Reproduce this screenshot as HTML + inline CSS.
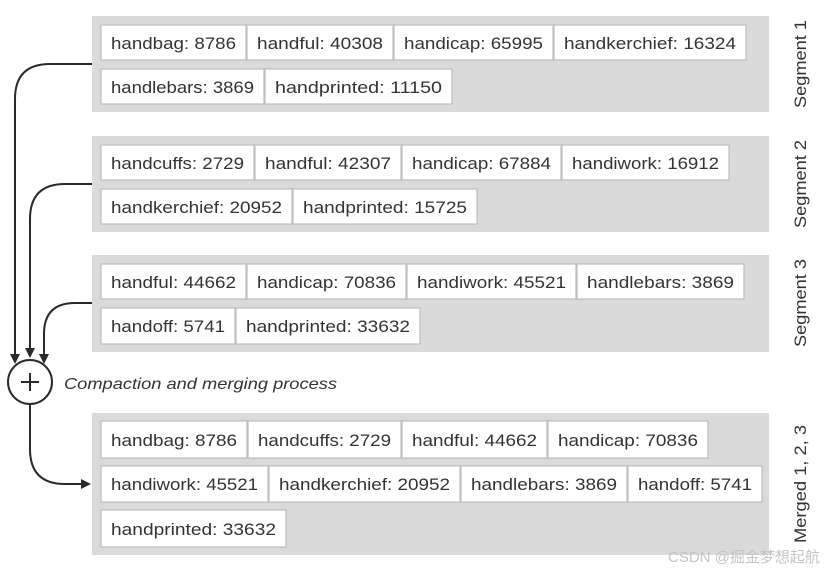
<!DOCTYPE html>
<html><head><meta charset="utf-8"><style>
html,body{margin:0;padding:0;background:#fff;}
svg{display:block;}
text{font-family:"Liberation Sans","Noto Sans CJK SC",sans-serif;fill:#333;}
.c{fill:#fff;stroke:#bdbdbd;stroke-width:1.2;}
.p{fill:#dadada;}
.t{font-size:17px;}
.l{stroke:#2a2a2a;stroke-width:2;fill:none;}
</style></head><body>
<svg width="830" height="574" viewBox="0 0 830 574" xmlns="http://www.w3.org/2000/svg">
<rect class="p" x="92" y="16" width="677" height="96"/>
<rect class="p" x="92" y="136" width="677" height="96"/>
<rect class="p" x="92" y="255" width="677" height="97"/>
<rect class="p" x="92" y="413" width="677" height="142"/>

<!-- Segment 1 -->
<rect class="c" x="101" y="25" width="145" height="35"/><text class="t" x="111" y="49" textLength="125" lengthAdjust="spacingAndGlyphs">handbag: 8786</text>
<rect class="c" x="247" y="25" width="146" height="35"/><text class="t" x="257" y="49" textLength="126" lengthAdjust="spacingAndGlyphs">handful: 40308</text>
<rect class="c" x="394" y="25" width="159" height="35"/><text class="t" x="404" y="49" textLength="139" lengthAdjust="spacingAndGlyphs">handicap: 65995</text>
<rect class="c" x="554" y="25" width="192" height="35"/><text class="t" x="564" y="49" textLength="172" lengthAdjust="spacingAndGlyphs">handkerchief: 16324</text>
<rect class="c" x="101" y="69" width="163" height="35"/><text class="t" x="111" y="93" textLength="143" lengthAdjust="spacingAndGlyphs">handlebars: 3869</text>
<rect class="c" x="265" y="69" width="187" height="35"/><text class="t" x="275" y="93" textLength="167" lengthAdjust="spacingAndGlyphs">handprinted: 11150</text>

<!-- Segment 2 -->
<rect class="c" x="101" y="145" width="153" height="35"/><text class="t" x="111" y="169" textLength="133" lengthAdjust="spacingAndGlyphs">handcuffs: 2729</text>
<rect class="c" x="255" y="145" width="146" height="35"/><text class="t" x="265" y="169" textLength="126" lengthAdjust="spacingAndGlyphs">handful: 42307</text>
<rect class="c" x="402" y="145" width="159" height="35"/><text class="t" x="412" y="169" textLength="139" lengthAdjust="spacingAndGlyphs">handicap: 67884</text>
<rect class="c" x="562" y="145" width="167" height="35"/><text class="t" x="572" y="169" textLength="147" lengthAdjust="spacingAndGlyphs">handiwork: 16912</text>
<rect class="c" x="101" y="189" width="191" height="35"/><text class="t" x="111" y="213" textLength="171" lengthAdjust="spacingAndGlyphs">handkerchief: 20952</text>
<rect class="c" x="293" y="189" width="184" height="35"/><text class="t" x="303" y="213" textLength="164" lengthAdjust="spacingAndGlyphs">handprinted: 15725</text>

<!-- Segment 3 -->
<rect class="c" x="101" y="264" width="145" height="35"/><text class="t" x="111" y="288" textLength="125" lengthAdjust="spacingAndGlyphs">handful: 44662</text>
<rect class="c" x="247" y="264" width="159" height="35"/><text class="t" x="257" y="288" textLength="139" lengthAdjust="spacingAndGlyphs">handicap: 70836</text>
<rect class="c" x="407" y="264" width="169" height="35"/><text class="t" x="417" y="288" textLength="149" lengthAdjust="spacingAndGlyphs">handiwork: 45521</text>
<rect class="c" x="577" y="264" width="167" height="35"/><text class="t" x="587" y="288" textLength="147" lengthAdjust="spacingAndGlyphs">handlebars: 3869</text>
<rect class="c" x="101" y="308" width="134" height="36"/><text class="t" x="111" y="332" textLength="114" lengthAdjust="spacingAndGlyphs">handoff: 5741</text>
<rect class="c" x="236" y="308" width="184" height="36"/><text class="t" x="246" y="332" textLength="164" lengthAdjust="spacingAndGlyphs">handprinted: 33632</text>

<!-- Merged -->
<rect class="c" x="101" y="421" width="146" height="37"/><text class="t" x="111" y="446" textLength="126" lengthAdjust="spacingAndGlyphs">handbag: 8786</text>
<rect class="c" x="248" y="421" width="153" height="37"/><text class="t" x="258" y="446" textLength="133" lengthAdjust="spacingAndGlyphs">handcuffs: 2729</text>
<rect class="c" x="402" y="421" width="145" height="37"/><text class="t" x="412" y="446" textLength="125" lengthAdjust="spacingAndGlyphs">handful: 44662</text>
<rect class="c" x="548" y="421" width="160" height="37"/><text class="t" x="558" y="446" textLength="140" lengthAdjust="spacingAndGlyphs">handicap: 70836</text>
<rect class="c" x="101" y="466" width="167" height="36"/><text class="t" x="111" y="490" textLength="147" lengthAdjust="spacingAndGlyphs">handiwork: 45521</text>
<rect class="c" x="269" y="466" width="191" height="36"/><text class="t" x="279" y="490" textLength="171" lengthAdjust="spacingAndGlyphs">handkerchief: 20952</text>
<rect class="c" x="461" y="466" width="166" height="36"/><text class="t" x="471" y="490" textLength="146" lengthAdjust="spacingAndGlyphs">handlebars: 3869</text>
<rect class="c" x="628" y="466" width="134" height="36"/><text class="t" x="638" y="490" textLength="114" lengthAdjust="spacingAndGlyphs">handoff: 5741</text>
<rect class="c" x="101" y="510" width="185" height="37"/><text class="t" x="111" y="535" textLength="165" lengthAdjust="spacingAndGlyphs">handprinted: 33632</text>

<!-- side labels -->
<text class="t" transform="translate(806,64) rotate(-90)" text-anchor="middle" textLength="88" lengthAdjust="spacingAndGlyphs">Segment 1</text>
<text class="t" transform="translate(806,184) rotate(-90)" text-anchor="middle" textLength="88" lengthAdjust="spacingAndGlyphs">Segment 2</text>
<text class="t" transform="translate(806,303) rotate(-90)" text-anchor="middle" textLength="88" lengthAdjust="spacingAndGlyphs">Segment 3</text>
<text class="t" transform="translate(806,484) rotate(-90)" text-anchor="middle" textLength="118" lengthAdjust="spacingAndGlyphs">Merged 1, 2, 3</text>

<!-- connectors -->
<path class="l" d="M92,64 H50 Q15,64 15,99 V356"/>
<path class="l" d="M92,184 H65 Q30,184 30,219 V350"/>
<path class="l" d="M92,303 H75 Q44,303 44,334 V356"/>
<polygon points="10,354 20,354 15,364" fill="#2a2a2a"/>
<polygon points="25,348 35,348 30,358" fill="#2a2a2a"/>
<polygon points="39,354 49,354 44,364" fill="#2a2a2a"/>
<circle cx="30" cy="382" r="22" fill="#fff" stroke="#2a2a2a" stroke-width="2"/>
<path class="l" d="M21,382 H39 M30,373 V391"/>
<text x="64" y="389" font-size="16" font-style="italic" textLength="273" lengthAdjust="spacingAndGlyphs">Compaction and merging process</text>
<path class="l" d="M30,404 V449 Q30,484 65,484 H82"/>
<polygon points="81,479 91,484 81,489" fill="#2a2a2a"/>

<text x="668" y="562" font-size="15" fill="#bbb" style="fill:#c4c4c4">CSDN @掘金梦想起航</text>
</svg>
</body></html>
